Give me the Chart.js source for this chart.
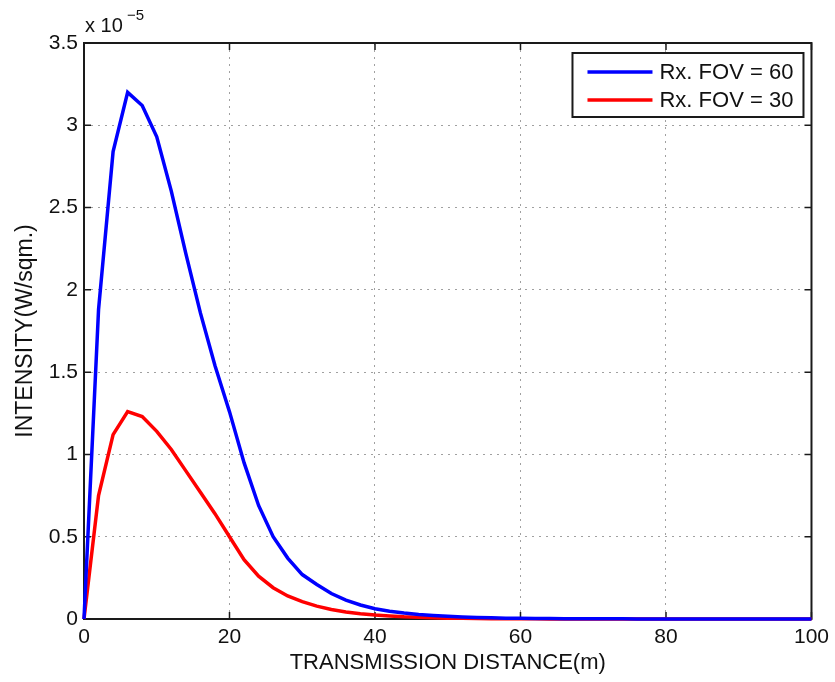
<!DOCTYPE html>
<html>
<head>
  <title>Intensity vs Transmission Distance</title>
  <script src="https://cdn.jsdelivr.net/npm/chart.js"></script>
  <style>
    body { margin: 0; background: #fff; }
  </style>
</head>
<body>
  <canvas id="intensityChart" width="835" height="682"></canvas>
  <script>
    // distance (m), values in units of 1e-5 W/sqm
    const distance = [0, 2, 4, 6, 8, 10, 12, 14, 16, 18, 20, 22, 24, 26, 28, 30, 32, 34, 36, 38,
      40, 42, 44, 46, 48, 50, 52, 54, 56, 58, 60, 62, 64, 66, 68, 70, 72, 74, 76, 78,
      80, 82, 84, 86, 88, 90, 92, 94, 96, 98, 100];
    const fov60 = [0, 1.88, 2.84, 3.20, 3.12, 2.93, 2.60, 2.22, 1.86, 1.54, 1.26, 0.95, 0.69, 0.50, 0.37, 0.27, 0.21, 0.155, 0.115, 0.085,
      0.062, 0.047, 0.036, 0.027, 0.021, 0.016, 0.012, 0.009, 0.007, 0.005, 0.004, 0.003, 0.0025, 0.002, 0.0015, 0.0012, 0.001, 0.0008, 0.0006, 0.0005,
      0.0004, 0.0003, 0.0003, 0.0002, 0.0002, 0.0002, 0.0001, 0.0001, 0.0001, 0.0001, 0.0001];
    const fov30 = [0, 0.75, 1.12, 1.26, 1.23, 1.14, 1.03, 0.90, 0.77, 0.64, 0.50, 0.36, 0.26, 0.19, 0.14, 0.105, 0.078, 0.058, 0.043, 0.032,
      0.024, 0.018, 0.013, 0.010, 0.007, 0.005, 0.004, 0.003, 0.002, 0.0015, 0.001, 0.0008, 0.0006, 0.0004, 0.0003, 0.0002, 0.0002, 0.0001, 0.0001, 0.0001,
      0.0001, 0.0001, 0.0001, 0.0001, 0.0001, 0.0001, 0.0001, 0.0001, 0.0001, 0.0001, 0.0001];
    const seriesLabels = ['Rx. FOV = 60', 'Rx. FOV = 30'];

    const xTickValues = [0, 20, 40, 60, 80, 100];
    const xTickLabels = ['0', '20', '40', '60', '80', '100'];
    const yTickValues = [0, 0.5, 1, 1.5, 2, 2.5, 3, 3.5];
    const yTickLabels = ['0', '0.5', '1', '1.5', '2', '2.5', '3', '3.5'];

    const FONT = "'Liberation Sans', Arial, sans-serif";
    const toPoints = arr => arr.map((v, i) => ({ x: distance[i], y: v }));

    // matlab-style box, inward ticks, legend and exponent
    const matlabAxes = {
      id: 'matlabAxes',
      beforeDatasetsDraw(chart) {
        const { ctx, chartArea: a, scales: { x, y } } = chart;
        ctx.save();
        ctx.strokeStyle = '#1a1a1a';
        ctx.lineWidth = 2;
        ctx.strokeRect(a.left, a.top, a.right - a.left, a.bottom - a.top);
        ctx.lineWidth = 1.5;
        ctx.beginPath();
        xTickValues.forEach(v => {
          const px = x.getPixelForValue(v);
          ctx.moveTo(px, a.bottom); ctx.lineTo(px, a.bottom - 7);
          ctx.moveTo(px, a.top); ctx.lineTo(px, a.top + 7);
        });
        yTickValues.forEach(v => {
          const py = y.getPixelForValue(v);
          ctx.moveTo(a.left, py); ctx.lineTo(a.left + 7, py);
          ctx.moveTo(a.right, py); ctx.lineTo(a.right - 7, py);
        });
        ctx.stroke();
        ctx.restore();
      },
      afterDatasetsDraw(chart) {
        const { ctx, chartArea: a } = chart;
        ctx.save();
        // legend
        const bx = a.right - 239, by = a.top + 10, bw = 231, bh = 64;
        ctx.fillStyle = '#fff';
        ctx.fillRect(bx, by, bw, bh);
        ctx.strokeStyle = '#1a1a1a';
        ctx.lineWidth = 2;
        ctx.strokeRect(bx, by, bw, bh);
        ctx.font = '22px ' + FONT;
        ctx.textBaseline = 'middle';
        chart.data.datasets.forEach((ds, i) => {
          const ly = by + 19 + i * 28;
          ctx.strokeStyle = ds.borderColor;
          ctx.lineWidth = 3.5;
          ctx.beginPath();
          ctx.moveTo(bx + 15, ly); ctx.lineTo(bx + 80, ly);
          ctx.stroke();
          ctx.fillStyle = '#111';
          ctx.fillText(ds.label, bx + 87, ly + 1);
        });
        // exponent label
        ctx.textBaseline = 'alphabetic';
        ctx.fillStyle = '#111';
        ctx.font = '20px ' + FONT;
        ctx.fillText('x 10', a.left + 1, a.top - 11);
        ctx.font = '15px ' + FONT;
        ctx.fillText('\u22125', a.left + 43, a.top - 23);
        ctx.restore();
      }
    };

    const ctx = document.getElementById('intensityChart').getContext('2d');
    const chart = new Chart(ctx, {
      type: 'line',
      data: {
        datasets: [{
          label: seriesLabels[0],
          data: toPoints(fov60),
          borderColor: '#0000ff',
          borderWidth: 3.5,
          pointRadius: 0,
          tension: 0,
          clip: false
        }, {
          label: seriesLabels[1],
          data: toPoints(fov30),
          borderColor: '#ff0000',
          borderWidth: 3.5,
          pointRadius: 0,
          tension: 0,
          clip: false
        }]
      },
      options: {
        responsive: false,
        animation: false,
        layout: { padding: { left: 0, top: 43, right: 21, bottom: 0 } },
        plugins: { legend: { display: false }, tooltip: { enabled: false } },
        scales: {
          x: {
            type: 'linear',
            min: 0,
            max: 100,
            afterBuildTicks: s => { s.ticks = xTickValues.map(v => ({ value: v })); },
            afterFit: s => { s.height = 63; },
            ticks: {
              callback: (v, i) => xTickLabels[i],
              font: { family: FONT, size: 21 },
              color: '#111',
              padding: 6,
              maxRotation: 0
            },
            grid: { color: '#a0a0a0', lineWidth: 1, drawTicks: false },
            border: { display: false, dash: [2, 5] },
            title: {
              display: true,
              text: 'TRANSMISSION DISTANCE(m)',
              font: { family: FONT, size: 22 },
              color: '#111',
              padding: { top: 0, bottom: 6 }
            }
          },
          y: {
            min: 0,
            max: 3.5,
            afterBuildTicks: s => { s.ticks = yTickValues.map(v => ({ value: v })); },
            afterFit: s => { s.width = 84; },
            ticks: {
              callback: (v, i) => yTickLabels[i],
              font: { family: FONT, size: 21 },
              color: '#111',
              padding: 6
            },
            grid: { color: '#a0a0a0', lineWidth: 1, drawTicks: false },
            border: { display: false, dash: [2, 5] },
            title: {
              display: true,
              text: 'INTENSITY(W/sqm.)',
              font: { family: FONT, size: 23 },
              color: '#111',
              padding: { top: 12, bottom: 0 }
            }
          }
        }
      },
      plugins: [matlabAxes]
    });
  </script>
</body>
</html>
